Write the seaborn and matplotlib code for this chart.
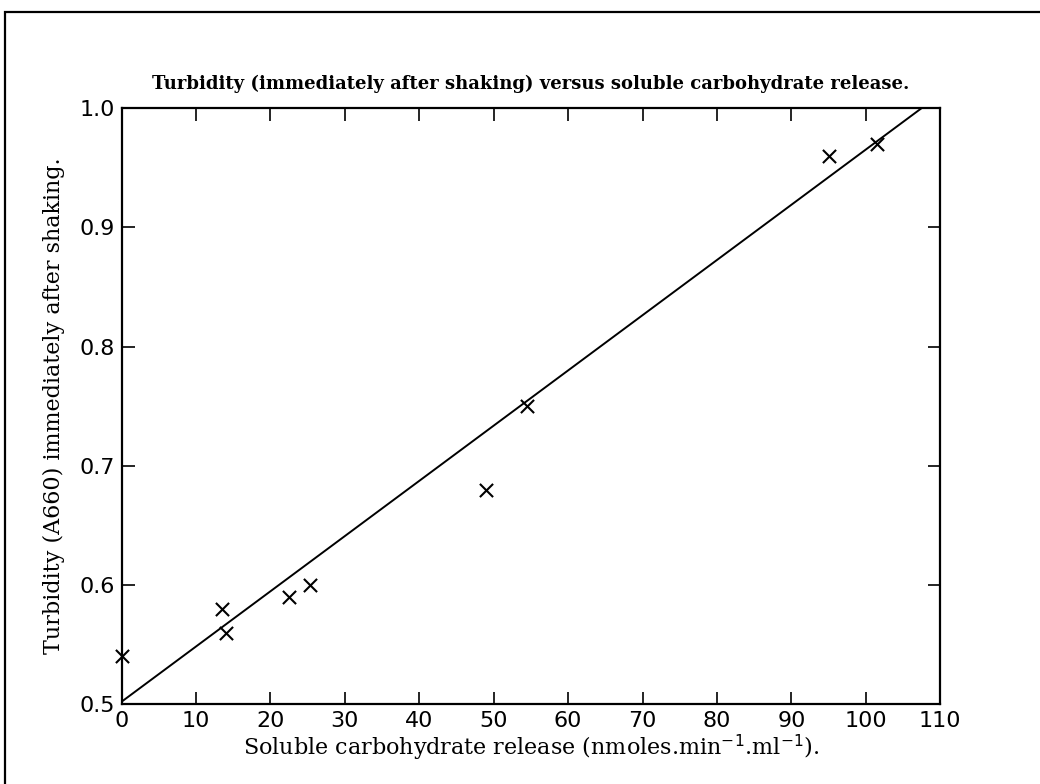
import matplotlib
matplotlib.use("Agg")
import matplotlib.pyplot as plt
import seaborn as sns
import pandas as pd
import numpy as np
from matplotlib.patches import Rectangle

# Data
carbohydrate = [0.0, 13.5, 14.0, 22.5, 25.3, 49.0, 54.5, 95.0, 101.5]
turbidity = [0.54, 0.58, 0.56, 0.59, 0.60, 0.68, 0.75, 0.96, 0.97]
fit_x = [0.0, 107.5]
fit_y = [0.502, 1.0]
x_ticks = [0, 10, 20, 30, 40, 50, 60, 70, 80, 90, 100, 110]
y_ticks = [0.5, 0.6, 0.7, 0.8, 0.9, 1.0]

title = "Turbidity (immediately after shaking) versus soluble carbohydrate release."
xlabel = "Soluble carbohydrate release (nmoles.min$^{-1}$.ml$^{-1}$)."
ylabel = "Turbidity (A660) immediately after shaking."

sns.set_theme(style="ticks")
plt.rcParams['font.family'] = ['DejaVu Sans']

df = pd.DataFrame({"x": carbohydrate, "y": turbidity})
fit = pd.DataFrame({"x": fit_x, "y": fit_y})

fig = plt.figure(figsize=(10.4, 7.84), dpi=100)
ax = fig.add_axes([0.117, 0.102, 0.787, 0.760])

sns.lineplot(data=fit, x="x", y="y", ax=ax, color="black", linewidth=1.4)
sns.scatterplot(data=df, x="x", y="y", ax=ax, marker="x", s=90,
                color="black", linewidth=1.5, clip_on=False, zorder=5)

ax.set_xlim(0, 110)
ax.set_ylim(0.5, 1.0)
ax.set_xticks(x_ticks)
ax.set_yticks(y_ticks)
ax.set_xticklabels([str(v) for v in x_ticks])
ax.set_yticklabels([f"{v:.1f}" for v in y_ticks])
ax.tick_params(direction="in", length=9, width=1.2, top=True, right=True,
               labelsize=16, colors="black", pad=5)
for s in ax.spines.values():
    s.set_linewidth(1.6)
    s.set_color("black")

ax.set_xlabel(xlabel, family="DejaVu Serif", fontsize=16, color="black", labelpad=1)
ax.set_ylabel(ylabel, family="DejaVu Serif", fontsize=16, color="black", labelpad=10)
ax.set_title(title, family="DejaVu Serif", fontsize=13, fontweight="bold",
             color="black", pad=14)

# outer frame of the scanned page
fig.patches.append(Rectangle((0.005, -0.05), 1.05, 1.035, transform=fig.transFigure,
                             fill=False, edgecolor="black", linewidth=1.6))

fig.savefig("out.png", dpi=100, facecolor="white")
